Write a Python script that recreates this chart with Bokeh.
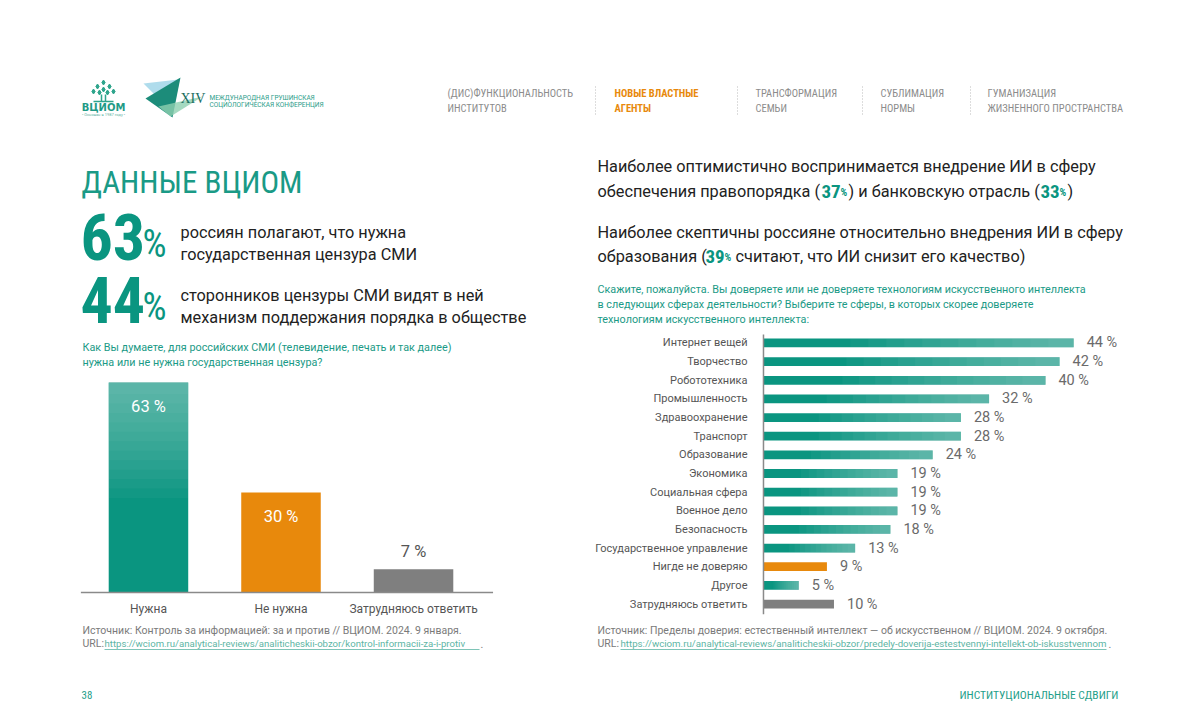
from bokeh.plotting import figure
from bokeh.layouts import column, row
from bokeh.models import Range1d, FactorRange
from bokeh.core.properties import value
from bokeh.embed import file_html
from bokeh.resources import INLINE

# ---------------- data ----------------
censorship_categories = ["Нужна", "Не нужна", "Затрудняюсь ответить"]
censorship_values = [63, 30, 7]

ai_spheres = ["Интернет вещей", "Творчество", "Робототехника", "Промышленность",
              "Здравоохранение", "Транспорт", "Образование", "Экономика",
              "Социальная сфера", "Военное дело", "Безопасность",
              "Государственное управление", "Нигде не доверяю", "Другое",
              "Затрудняюсь ответить"]
ai_values = [44, 42, 40, 32, 28, 28, 24, 19, 19, 19, 18, 13, 9, 5, 10]

key_values = [63, 44]            # big figures on the left
law_value, bank_value, edu_value = 37, 33, 39

nav_lines = [("(ДИС)ФУНКЦИОНАЛЬНОСТЬ", "ИНСТИТУТОВ"), ("НОВЫЕ ВЛАСТНЫЕ", "АГЕНТЫ"),
             ("ТРАНСФОРМАЦИЯ", "СЕМЬИ"), ("СУБЛИМАЦИЯ", "НОРМЫ"),
             ("ГУМАНИЗАЦИЯ", "ЖИЗНЕННОГО ПРОСТРАНСТВА")]
active_nav = 1

# ---------------- styles ----------------
BODY = "Roboto"
COND = "Roboto Condensed, Noto Sans ExtraCondensed, Noto Sans Condensed, Roboto"
SERIF = "Liberation Serif"
TEAL = "#0a9580"
TEAL_TXT = "#1a9a86"
ORANGE = "#e8890c"
GREY_BAR = "#7f7f7f"
DARK = "#222222"
NAV_GREY = "#8c8c8c"
SRC_GREY = "#7a7a7a"
LINK = "#5db5a4"


def base_fig(w, h, x_range, y_range):
    p = figure(width=w, height=h, x_range=x_range, y_range=y_range,
               x_axis_location=None, y_axis_location=None, toolbar_location=None, tools="",
               output_backend="svg", min_border=0, outline_line_color=None)
    p.grid.visible = False
    p.background_fill_color = "white"
    p.border_fill_color = "white"
    return p


def canvas(x0, y0, w, h):
    return base_fig(w, h, Range1d(x0, x0 + w), Range1d(y0 + h, y0))


def txt(p, x, y, s, size, color=DARK, font=BODY, style="normal", align="left",
        baseline="middle"):
    p.text(x=[x], y=[y], text=[s], text_font=value(font), text_font_size=f"{size}px",
           text_font_style=style, text_color=color, text_align=align, text_baseline=baseline)


# ---------------- header ----------------
hdr = canvas(0, 0, 1200, 140)
hdr.scatter([103, 97, 109, 93, 113, 99, 107, 103], [82, 86, 86, 91, 91, 92, 92, 89],
            size=5, marker="diamond", color="#2ea58c")
hdr.segment(x0=[101, 105, 93], y0=[94, 94, 101], x1=[101, 105, 113], y1=[101, 101, 101],
            line_color="#2ea58c", line_width=1.5)
txt(hdr, 103, 107, "ВЦИОМ", 10, "#1f9a86", "DejaVu Sans", "bold", "center")
txt(hdr, 103, 114, "• Основан в 1987 году •", 4, "#5fb3a3", BODY, "normal", "center")
hdr.patches(xs=[[143, 178, 160], [145, 180, 172], [158, 202, 170]],
            ys=[[83, 79, 100], [98, 77, 117], [106, 96, 116]],
            fill_color=["#a6d8ea", "#1c8c7a", "#8fd0b0"], fill_alpha=[0.9, 1.0, 0.8],
            line_color=None)
txt(hdr, 180, 98, "XIV", 14, "#1a6e62", SERIF)
txt(hdr, 209, 97, "МЕЖДУНАРОДНАЯ ГРУШИНСКАЯ", 6.5, "#2a9d89", BODY)
txt(hdr, 209, 104, "СОЦИОЛОГИЧЕСКАЯ КОНФЕРЕНЦИЯ", 6.5, "#2a9d89", BODY)
nav_x = [447, 614, 755, 880, 987]
sep_x = [595, 737, 862, 970]
for i, (l1, l2) in enumerate(nav_lines):
    col = ORANGE if i == active_nav else NAV_GREY
    st = "bold" if i == active_nav else "normal"
    txt(hdr, nav_x[i], 93, l1, 10.5, col, COND, st)
    txt(hdr, nav_x[i], 108, l2, 10.5, col, COND, st)
hdr.segment(x0=sep_x, y0=[86] * 4, x1=sep_x, y1=[115] * 4, line_color="#bbbbbb",
            line_dash="1 2", line_width=1)

# ---------------- left text ----------------
lt = canvas(0, 140, 561, 232)
txt(lt, 81, 182, "ДАННЫЕ ВЦИОМ", 31, TEAL_TXT, COND)
txt(lt, 80, 236, f"{key_values[0]}", 64, TEAL, COND, "bold")
txt(lt, 142, 243, "%", 38, TEAL, COND)
txt(lt, 180, 232, "россиян полагают, что нужна", 16.3, DARK)
txt(lt, 180, 254, "государственная цензура СМИ", 16.3, DARK)
txt(lt, 80, 299, f"{key_values[1]}", 64, TEAL, COND, "bold")
txt(lt, 142, 306, "%", 38, TEAL, COND)
txt(lt, 180, 295, "сторонников цензуры СМИ видят в ней", 16.3, DARK)
txt(lt, 180, 317, "механизм поддержания порядка в обществе", 16.3, DARK)
txt(lt, 82, 347, "Как Вы думаете, для российских СМИ (телевидение, печать и так далее)", 10.8, TEAL_TXT)
txt(lt, 82, 362, "нужна или не нужна государственная цензура?", 10.8, TEAL_TXT)

# ---------------- left chart ----------------
lc = base_fig(561, 248, FactorRange(*censorship_categories, range_padding=0.411),
              Range1d(-8.4, 66))
lc_colors = [TEAL, ORANGE, GREY_BAR]
lc.vbar(x=censorship_categories, top=censorship_values, width=0.6, fill_color=lc_colors,
        line_color=None)
for k in range(12):
    f = 0.45 + 0.045 * k
    lc.vbar(x=censorship_categories[:1], bottom=[censorship_values[0] * f],
            top=censorship_values[:1], width=0.6, fill_color="white", fill_alpha=0.035,
            line_color=None)
lc.segment(x0=[(censorship_categories[0], -0.51)], y0=[0],
           x1=[(censorship_categories[-1], 0.6)], y1=[0],
           line_color="#8a8a8a", line_width=1.5)
lc.text(x=censorship_categories, y=[0] * len(censorship_categories), text=censorship_categories,
        y_offset=9, text_align="center", text_baseline="top", text_color="#555555",
        text_font=value(BODY), text_font_size="12px")
inside = [i for i, v in enumerate(censorship_values) if v >= 20]
outside = [i for i, v in enumerate(censorship_values) if v < 20]
lc.text(x=[censorship_categories[i] for i in inside], y=[censorship_values[i] for i in inside],
        text=[f"{censorship_values[i]} %" for i in inside], y_offset=14,
        text_align="center", text_baseline="top", text_color="white",
        text_font=value(BODY), text_font_size="16.5px")
lc.text(x=[censorship_categories[i] for i in outside], y=[censorship_values[i] for i in outside],
        text=[f"{censorship_values[i]} %" for i in outside], y_offset=-8,
        text_align="center", text_baseline="bottom", text_color="#555555",
        text_font=value(BODY), text_font_size="16.5px")

# ---------------- right text ----------------
rt = canvas(561, 140, 639, 186)
HS = 16.3
txt(rt, 597, 166, "Наиболее оптимистично воспринимается внедрение ИИ в сферу", HS)
txt(rt, 597, 191, "обеспечения правопорядка (", HS)
txt(rt, 821, 191, f"{law_value}", 19, TEAL, COND, "bold")
txt(rt, 840, 192, "%", 10.5, TEAL, COND, "bold")
txt(rt, 848, 191, ") и банковскую отрасль (", HS)
txt(rt, 1040, 191, f"{bank_value}", 19, TEAL, COND, "bold")
txt(rt, 1059, 192, "%", 10.5, TEAL, COND, "bold")
txt(rt, 1067, 191, ")", HS)
txt(rt, 597, 232, "Наиболее скептичны россияне относительно внедрения ИИ в сферу", HS)
txt(rt, 597, 256, "образования (", HS)
txt(rt, 705, 256, f"{edu_value}", 19, TEAL, COND, "bold")
txt(rt, 724, 257, "%", 10.5, TEAL, COND, "bold")
txt(rt, 735, 256, "считают, что ИИ снизит его качество)", HS)
txt(rt, 597, 289, "Скажите, пожалуйста. Вы доверяете или не доверяете технологиям искусственного интеллекта", 10.8, TEAL_TXT)
txt(rt, 597, 304, "в следующих сферах деятельности? Выберите те сферы, в которых скорее доверяете", 10.8, TEAL_TXT)
txt(rt, 597, 319, "технологиям искусственного интеллекта:", 10.8, TEAL_TXT)

# ---------------- right chart ----------------
rc = base_fig(639, 294, Range1d(-28.65, 61.99), FactorRange(*ai_spheres[::-1], range_padding=0.0511))
rc_colors = [ORANGE if s == "Нигде не доверяю" else GREY_BAR if s == "Затрудняюсь ответить"
             else TEAL for s in ai_spheres]
rc.hbar(y=ai_spheres, right=ai_values, height=0.47, fill_color=rc_colors, line_color=None)
teal_idx = [i for i, c in enumerate(rc_colors) if c == TEAL]
for k in range(12):
    f = 0.28 + 0.058 * k
    rc.hbar(y=[ai_spheres[i] for i in teal_idx], left=[ai_values[i] * f for i in teal_idx],
            right=[ai_values[i] for i in teal_idx], height=0.47, fill_color="white",
            fill_alpha=0.036, line_color=None)
rc.segment(x0=[0], y0=[(ai_spheres[-1], -0.55)], x1=[0], y1=[(ai_spheres[0], 0.45)],
           line_color="#8a8a8a", line_width=1.5)
rc.text(x=[0] * len(ai_spheres), y=ai_spheres, text=ai_spheres, x_offset=-16,
        text_align="right", text_baseline="middle", text_color="#555555",
        text_font=value(BODY), text_font_size="11px")
rc.text(x=ai_values, y=ai_spheres, text=[f"{v} %" for v in ai_values], x_offset=13,
        text_baseline="middle", text_color="#6a6a6a", text_font=value(BODY),
        text_font_size="14.5px")

# ---------------- footer ----------------
ft = canvas(0, 620, 1200, 105)
txt(ft, 82, 630, "Источник: Контроль за информацией: за и против // ВЦИОМ. 2024. 9 января.", 10.5, SRC_GREY)
txt(ft, 82, 643, "URL: ", 10.5, SRC_GREY)
txt(ft, 104, 643, "https://wciom.ru/analytical-reviews/analiticheskii-obzor/kontrol-informacii-za-i-protiv", 9.6, LINK)
txt(ft, 480, 643, ".", 10.5, SRC_GREY)
ft.segment(x0=[104], y0=[649], x1=[479], y1=[649], line_color=LINK, line_width=0.8)
txt(ft, 597, 630, "Источник: Пределы доверия: естественный интеллект — об искусственном // ВЦИОМ. 2024. 9 октября.", 10.5, SRC_GREY)
txt(ft, 597, 643, "URL: ", 10.5, SRC_GREY)
txt(ft, 620, 643, "https://wciom.ru/analytical-reviews/analiticheskii-obzor/predely-doverija-estestvennyi-intellekt-ob-iskusstvennom", 9.7, LINK)
txt(ft, 1108, 643, ".", 10.5, SRC_GREY)
ft.segment(x0=[620], y0=[649], x1=[1106], y1=[649], line_color=LINK, line_width=0.8)
txt(ft, 81, 694, "38", 11, "#1fa08a", COND)
txt(ft, 1118, 694, "ИНСТИТУЦИОНАЛЬНЫЕ СДВИГИ", 11.5, "#1fa08a", COND, "normal", "right")

layout = column(hdr, row(column(lt, lc), column(rt, rc)), ft)
open("out.html", "w").write(file_html(layout, INLINE, "ВЦИОМ"))
